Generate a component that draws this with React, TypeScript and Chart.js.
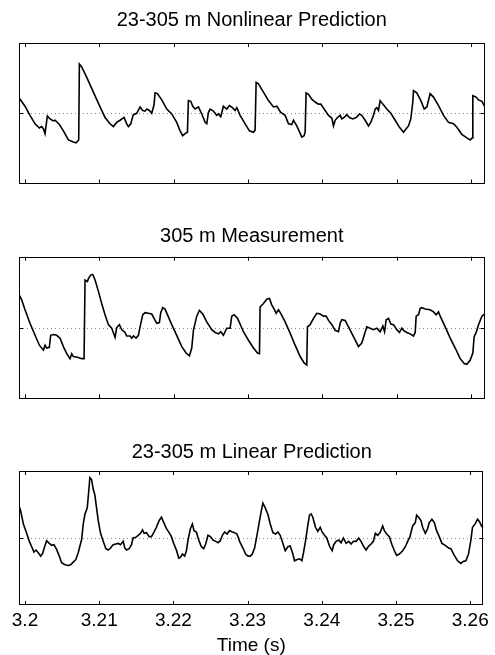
import React, { useEffect, useRef } from "react";
import { Chart, registerables } from "chart.js";

Chart.register(...registerables);

// Time axis (seconds); series times are given in units of 0.1 ms after 3.2 s
const T0 = 3.2;
const T_UNIT = 1e-4;
const X_MIN = 3.19919;
const X_MAX = 3.26179;
const TICKS = [3.2, 3.21, 3.22, 3.23, 3.24, 3.25, 3.26];
const TITLES = ["23-305 m Nonlinear Prediction", "305 m Measurement", "23-305 m Linear Prediction"];
const X_TITLE = "Time (s)";

const nonlinT = [-8.1, 0, 6.7, 13.5, 19.3, 22.4, 24.7, 26.9, 30.0, 33.6, 38.1, 40.4, 46.2, 51.6, 58.3, 65.0, 68.6, 72.2, 73.1, 76.2, 83.0, 91.9, 100.9, 107.6, 114.3, 118.8, 123.3, 127.8, 133.2, 136.8, 139.0, 142.2, 145.7, 150.2, 154.7, 158.3, 161.4, 163.7, 167.3, 170.4, 173.5, 174.9, 178.0, 183.9, 190.6, 197.3, 204.0, 208.5, 212.1, 215.2, 218.4, 219.7, 222.9, 225.6, 228.7, 233.2, 237.7, 242.2, 244.4, 246.6, 248.9, 253.4, 257.8, 260.1, 263.2, 266.8, 271.3, 274.9, 278.9, 282.5, 284.8, 289.2, 296.0, 301.8, 307.2, 309.4, 310.8, 313.9, 320.6, 327.4, 334.1, 338.6, 343.9, 349.8, 354.3, 358.7, 361.0, 365.5, 372.2, 375.3, 376.7, 378.0, 381.2, 385.6, 390.1, 394.6, 397.8, 400.4, 403.6, 408.1, 412.6, 414.8, 417.0, 420.2, 423.8, 426.0, 429.1, 432.7, 436.3, 440.8, 445.3, 449.8, 452.9, 457.4, 461.9, 465.0, 468.6, 470.9, 473.1, 475.3, 477.6, 481.2, 486.5, 491.9, 497.8, 503.6, 509.0, 512.6, 515.7, 518.8, 521.5, 522.4, 526.9, 532.3, 536.8, 540.4, 544.8, 549.3, 556.1, 562.8, 569.5, 576.2, 580.7, 587.4, 594.2, 598.7, 601.3, 602.2, 606.7, 609.9, 614.4, 617.9];
const nonlinV = [0.22, 0.10, -0.03, -0.15, -0.21, -0.19, -0.22, -0.29, -0.04, -0.08, -0.11, -0.10, -0.16, -0.25, -0.38, -0.41, -0.42, -0.38, 0.70, 0.66, 0.51, 0.30, 0.09, -0.06, -0.15, -0.19, -0.13, -0.10, -0.06, -0.15, -0.19, -0.15, -0.02, 0.00, 0.09, 0.04, 0.03, 0.06, 0.04, 0.00, 0.12, 0.29, 0.28, 0.19, 0.06, -0.01, -0.13, -0.25, -0.32, -0.29, -0.27, 0.18, 0.17, 0.10, 0.06, 0.09, -0.01, -0.13, -0.15, 0.01, 0.06, 0.03, -0.03, -0.01, -0.05, 0.10, 0.06, 0.11, 0.08, 0.04, 0.08, -0.03, -0.15, -0.25, -0.27, -0.24, 0.44, 0.42, 0.30, 0.18, 0.09, 0.10, 0.01, -0.03, -0.15, -0.16, -0.10, -0.18, -0.34, -0.32, -0.27, 0.29, 0.27, 0.20, 0.16, 0.13, 0.13, 0.09, 0.04, -0.03, -0.07, -0.18, -0.10, -0.06, -0.03, -0.08, -0.06, -0.02, -0.06, -0.08, -0.06, -0.01, -0.03, -0.10, -0.18, -0.13, -0.03, 0.06, 0.08, 0.04, 0.18, 0.13, 0.06, 0.00, -0.10, -0.20, -0.27, -0.22, -0.18, -0.08, 0.16, 0.32, 0.29, 0.18, 0.06, 0.09, 0.28, 0.23, 0.11, -0.03, -0.13, -0.15, -0.20, -0.30, -0.35, -0.38, -0.35, 0.25, 0.23, 0.19, 0.17, 0.10];

const measT = [-8.1, -4.5, 0, 6.7, 13.5, 19.3, 24.7, 26.9, 29.1, 32.7, 34.5, 38.1, 42.6, 47.1, 51.6, 56.1, 60.5, 62.8, 65.0, 70.4, 76.2, 79.4, 80.7, 83.9, 85.2, 88.3, 91.0, 94.2, 98.7, 103.1, 107.6, 112.1, 116.6, 121.1, 123.3, 126.9, 130.0, 134.5, 136.8, 141.3, 143.5, 145.7, 149.3, 152.5, 154.7, 158.3, 161.4, 165.9, 170.4, 173.5, 177.1, 180.7, 182.5, 185.2, 188.3, 192.8, 197.3, 204.0, 210.8, 216.6, 221.1, 224.2, 226.5, 230.9, 234.5, 239.0, 244.4, 251.1, 255.6, 260.1, 263.2, 266.8, 271.3, 275.8, 278.0, 281.2, 285.7, 289.2, 293.7, 300.5, 307.2, 312.6, 315.3, 316.1, 320.6, 325.1, 328.7, 331.8, 335.0, 337.7, 340.8, 343.9, 349.8, 356.5, 363.2, 370.0, 375.3, 378.9, 379.8, 383.4, 387.9, 392.4, 396.9, 401.3, 404.9, 408.1, 412.6, 417.0, 421.5, 423.8, 426.0, 430.5, 435.0, 441.7, 448.4, 452.9, 456.1, 459.6, 464.1, 468.6, 473.1, 477.6, 481.2, 483.5, 485.7, 488.9, 491.9, 495.5, 500.0, 503.6, 506.7, 509.0, 513.4, 517.9, 522.4, 524.7, 526.0, 529.2, 531.4, 533.6, 538.1, 544.8, 549.3, 552.9, 556.1, 558.3, 565.0, 571.8, 578.5, 585.2, 590.6, 594.2, 598.7, 602.2, 604.0, 606.7, 609.9, 614.4, 617.9];
const measV = [0.47, 0.39, 0.25, 0.06, -0.11, -0.25, -0.32, -0.25, -0.29, -0.28, -0.11, -0.10, -0.11, -0.15, -0.27, -0.37, -0.44, -0.37, -0.41, -0.42, -0.44, -0.44, 0.67, 0.65, 0.69, 0.74, 0.75, 0.67, 0.51, 0.34, 0.18, 0.04, -0.01, -0.14, 0.00, 0.04, -0.03, -0.07, -0.12, -0.12, -0.15, -0.12, -0.15, -0.11, 0.01, 0.18, 0.21, 0.20, 0.19, 0.13, 0.06, 0.07, 0.21, 0.28, 0.26, 0.15, 0.04, -0.11, -0.27, -0.36, -0.40, -0.29, -0.04, 0.16, 0.24, 0.19, 0.08, -0.03, -0.07, -0.09, -0.06, -0.11, -0.01, -0.01, 0.16, 0.18, 0.13, 0.05, -0.06, -0.18, -0.29, -0.36, -0.37, 0.29, 0.34, 0.40, 0.41, 0.32, 0.26, 0.20, 0.25, 0.20, 0.08, -0.08, -0.25, -0.41, -0.50, -0.53, 0.01, 0.04, 0.13, 0.20, 0.19, 0.16, 0.16, 0.10, 0.04, -0.04, -0.06, 0.06, 0.11, 0.10, 0.01, -0.13, -0.27, -0.22, -0.11, 0.01, -0.01, -0.03, -0.01, -0.06, 0.02, -0.06, 0.11, 0.13, 0.05, 0.04, -0.03, -0.07, -0.01, -0.04, -0.07, -0.09, -0.12, -0.07, 0.16, 0.18, 0.27, 0.28, 0.26, 0.25, 0.22, 0.18, 0.22, 0.16, 0.01, -0.15, -0.29, -0.44, -0.51, -0.52, -0.46, -0.36, -0.13, -0.07, 0.04, 0.16, 0.19];

const linT = [-8.1, -5.8, -2.2, 2.2, 5.8, 9.0, 12.1, 14.8, 17.9, 21.1, 23.8, 25.6, 29.1, 32.7, 35.9, 39.0, 42.6, 46.2, 49.3, 53.8, 58.3, 61.4, 65.0, 68.6, 71.7, 74.0, 76.2, 78.5, 80.7, 83.9, 85.6, 87.4, 89.7, 91.9, 94.2, 96.4, 98.7, 101.8, 105.4, 109.0, 112.1, 115.2, 118.8, 122.4, 125.6, 128.7, 132.3, 134.5, 136.8, 140.4, 143.5, 145.7, 149.3, 152.5, 155.6, 158.3, 160.5, 163.7, 167.3, 170.4, 173.5, 177.1, 180.7, 183.9, 187.0, 190.6, 194.2, 197.3, 200.4, 204.0, 207.2, 209.4, 212.1, 215.2, 217.5, 219.7, 222.9, 225.6, 227.8, 230.9, 234.1, 237.7, 240.8, 243.5, 246.6, 249.8, 253.4, 257.0, 260.1, 263.2, 265.9, 269.1, 272.2, 275.8, 279.4, 282.5, 285.7, 289.2, 293.7, 297.3, 300.5, 303.6, 306.3, 309.4, 312.6, 315.3, 318.4, 320.6, 323.8, 327.4, 330.5, 334.1, 337.7, 340.8, 343.9, 347.5, 350.7, 354.3, 357.4, 361.0, 363.2, 366.8, 370.0, 373.1, 375.3, 378.0, 380.7, 383.4, 385.6, 387.9, 391.5, 394.6, 397.8, 400.4, 403.6, 406.7, 410.3, 413.9, 416.1, 419.3, 422.9, 426.0, 429.1, 432.7, 436.3, 439.5, 442.6, 446.2, 449.8, 452.9, 456.1, 459.6, 463.2, 466.4, 469.5, 472.2, 475.3, 478.5, 482.1, 484.3, 487.4, 491.0, 494.6, 497.8, 500.9, 504.5, 509.0, 512.6, 515.7, 518.8, 522.4, 526.0, 527.8, 530.5, 533.6, 535.9, 539.5, 542.6, 544.8, 548.4, 551.6, 554.7, 558.3, 561.9, 566.4, 570.9, 574.0, 578.5, 583.0, 587.4, 590.6, 594.2, 597.7, 600.9, 603.1, 606.7, 609.9, 612.1, 615.7, 617.9];
const linV = [0.48, 0.40, 0.21, 0.07, -0.05, -0.13, -0.21, -0.18, -0.22, -0.27, -0.23, -0.16, -0.04, -0.08, -0.11, -0.10, -0.17, -0.27, -0.37, -0.40, -0.41, -0.40, -0.36, -0.32, -0.22, -0.12, -0.03, 0.21, 0.35, 0.45, 0.66, 0.90, 0.87, 0.73, 0.64, 0.45, 0.26, 0.07, -0.05, -0.16, -0.18, -0.15, -0.10, -0.09, -0.08, -0.10, -0.05, -0.15, -0.18, -0.16, -0.10, 0.00, 0.01, 0.04, 0.07, 0.12, 0.07, 0.08, 0.02, 0.02, 0.08, 0.16, 0.26, 0.31, 0.23, 0.14, 0.08, 0.02, -0.08, -0.18, -0.30, -0.29, -0.24, -0.27, -0.19, -0.03, 0.14, 0.21, 0.11, 0.09, -0.03, -0.13, -0.16, -0.09, 0.04, 0.02, -0.03, -0.05, -0.07, -0.04, 0.04, 0.09, 0.06, 0.11, 0.09, 0.08, 0.06, -0.05, -0.15, -0.24, -0.27, -0.27, -0.24, -0.15, 0.04, 0.21, 0.40, 0.52, 0.45, 0.35, 0.21, 0.08, 0.06, 0.09, 0.04, -0.08, -0.19, -0.13, -0.12, -0.24, -0.34, -0.32, -0.31, -0.34, -0.22, -0.05, 0.16, 0.34, 0.36, 0.31, 0.16, 0.10, 0.16, 0.09, 0.04, 0.00, -0.12, -0.19, -0.10, -0.05, -0.03, -0.07, 0.00, -0.08, -0.05, -0.09, -0.05, -0.05, 0.00, -0.05, -0.12, -0.18, -0.12, -0.09, -0.05, 0.07, 0.04, 0.08, 0.18, 0.11, 0.06, 0.02, -0.10, -0.19, -0.26, -0.24, -0.19, -0.13, -0.05, 0.02, 0.18, 0.23, 0.34, 0.31, 0.26, 0.16, 0.07, 0.14, 0.23, 0.28, 0.23, 0.11, 0.02, -0.08, -0.11, -0.15, -0.16, -0.26, -0.34, -0.38, -0.35, -0.34, -0.24, -0.03, 0.16, 0.21, 0.28, 0.25, 0.17, 0.16];

const FONT = "'Liberation Sans', Arial, Helvetica, sans-serif";

const framePlugin = {
  id: "frame",
  beforeDatasetsDraw(chart: any) {
    const { ctx, chartArea: a, scales } = chart;
    const y0 = Math.round(scales.y.getPixelForValue(0)) + 0.5;
    ctx.save();
    ctx.strokeStyle = "#8a8a8a";
    ctx.lineWidth = 1;
    ctx.setLineDash([1, 3]);
    ctx.beginPath();
    ctx.moveTo(a.left, y0);
    ctx.lineTo(a.right, y0);
    ctx.stroke();
    ctx.restore();
  },
  afterDatasetsDraw(chart: any) {
    const { ctx, chartArea: a, scales } = chart;
    ctx.save();
    ctx.strokeStyle = "#000";
    ctx.lineWidth = 1;
    ctx.strokeRect(Math.round(a.left) + 0.5, Math.round(a.top) + 0.5, Math.round(a.width) - 1, Math.round(a.height) - 1);
    ctx.beginPath();
    for (const t of TICKS) {
      const x = Math.round(scales.x.getPixelForValue(t)) + 0.5;
      ctx.moveTo(x, a.top);
      ctx.lineTo(x, a.top + 4);
      ctx.moveTo(x, a.bottom);
      ctx.lineTo(x, a.bottom - 4);
    }
    const y0 = Math.round(scales.y.getPixelForValue(0)) + 0.5;
    ctx.moveTo(a.left, y0);
    ctx.lineTo(a.left + 4, y0);
    ctx.moveTo(a.right, y0);
    ctx.lineTo(a.right - 4, y0);
    ctx.stroke();
    ctx.restore();
  },
};

type PanelProps = {
  top: number;
  height: number;
  title: string;
  ts: number[];
  vs: number[];
  titlePad: { top: number; bottom: number };
  padBottom: number;
  showAxis: boolean;
};

function Panel({ top, height, title, ts, vs, titlePad, padBottom, showAxis }: PanelProps) {
  const ref = useRef<HTMLCanvasElement | null>(null);
  useEffect(() => {
    if (!ref.current) return;
    const data = ts.map((t, i) => ({ x: T0 + t * T_UNIT, y: vs[i] }));
    const chart = new Chart(ref.current, {
      type: "line",
      data: {
        datasets: [
          {
            data,
            borderColor: "#000",
            borderWidth: 1.6,
            pointRadius: 0,
            tension: 0,
            fill: false,
          },
        ],
      },
      options: {
        responsive: false,
        animation: false,
        layout: { padding: { left: 19, right: 10.5, top: 0, bottom: padBottom } },
        plugins: {
          legend: { display: false },
          tooltip: { enabled: false },
          title: {
            display: true,
            text: title,
            color: "#000",
            font: { family: FONT, size: 20, weight: "normal", lineHeight: 1.2 },
            padding: titlePad,
          },
        },
        scales: {
          x: {
            type: "linear",
            min: X_MIN,
            max: X_MAX,
            display: showAxis,
            afterBuildTicks: (s: any) => {
              s.ticks = TICKS.map((v) => ({ value: v }));
            },
            grid: { display: false, drawTicks: false },
            border: { display: false },
            ticks: {
              color: "#000",
              padding: 6,
              maxRotation: 0,
              autoSkip: false,
              font: { family: FONT, size: 19, lineHeight: 1 },
              callback: (v: any) => String(Number(Number(v).toFixed(2))),
            },
            title: {
              display: showAxis,
              text: X_TITLE,
              color: "#000",
              font: { family: FONT, size: 19, lineHeight: 1 },
              padding: { top: 0, bottom: 0 },
            },
          },
          y: { min: -1, max: 1, display: false },
        },
      },
      plugins: [framePlugin],
    } as any);
    return () => chart.destroy();
  }, []);
  return (
    <canvas
      ref={ref}
      width={495}
      height={height}
      style={{ position: "absolute", left: 0, top, width: 495, height }}
    />
  );
}

export default function App() {
  return (
    <div style={{ position: "absolute", left: 0, top: 0, width: 495, height: 655, background: "#fff" }}>
      <Panel top={0} height={190} title={TITLES[0]} ts={nonlinT} vs={nonlinV} titlePad={{ top: 8.7, bottom: 10.3 }} padBottom={6.5} showAxis={false} />
      <Panel top={210} height={195} title={TITLES[1]} ts={measT} vs={measV} titlePad={{ top: 14.7, bottom: 8.0 }} padBottom={6.7} showAxis={false} />
      <Panel top={430} height={225} title={TITLES[2]} ts={linT} vs={linV} titlePad={{ top: 10.7, bottom: 6.3 }} padBottom={0} showAxis={true} />
    </div>
  );
}
